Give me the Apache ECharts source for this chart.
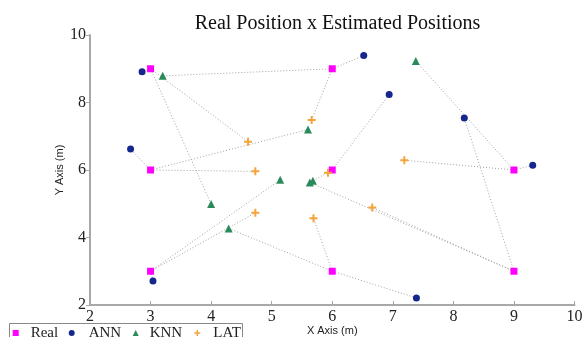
<!DOCTYPE html>
<html>
<head>
<meta charset="utf-8">
<script src="https://cdn.jsdelivr.net/npm/echarts@6/dist/echarts.min.js"></script>
<style>html,body{margin:0;padding:0;background:#fff;}#c{width:583px;height:337px;}</style>
</head>
<body>
<div id="c"></div>
<script>
// Real positions and estimates (index-aligned: estimate i belongs to real i)
const realX = [3, 6, 3, 6, 9, 3, 6, 9];
const realY = [9, 9, 6, 6, 6, 3, 3, 3];
const annX = [2.86, 6.52, 2.67, 6.94, 9.31, 3.04, 7.39, 8.18];
const annY = [8.91, 9.39, 6.62, 8.24, 6.14, 2.71, 2.21, 7.54];
const knnX = [4.00, 3.20, 5.60, 5.68, 7.38, 5.14, 4.29, 5.63];
const knnY = [4.99, 8.79, 7.20, 5.68, 9.23, 5.71, 4.27, 5.63];
const latX = [4.61, 5.66, 4.73, 5.93, 7.19, 4.73, 5.69, 6.66];
const latY = [6.84, 7.48, 5.96, 5.92, 6.29, 4.73, 4.57, 4.89];
const xTicks = [2, 3, 4, 5, 6, 7, 8, 9, 10];
const yTicks = [2, 4, 6, 8, 10];
const seriesNames = ['Real', 'ANN', 'KNN', 'LAT'];

const pts = (xs, ys) => xs.map((x, i) => [x, ys[i]]);
const real = pts(realX, realY), ann = pts(annX, annY), knn = pts(knnX, knnY), lat = pts(latX, latY);
const links = [];
[ann, knn, lat].forEach(est => est.forEach((p, i) => links.push({coords: [real[i], p]})));

const PLUS = 'path://M3,0H5V3H8V5H5V8H3V5H0V3H3Z';
const colors = {Real: '#ff00ff', ANN: '#15268c', KNN: '#2a8a5c', LAT: '#f4a53a'};
const icons = {Real: 'rect', ANN: 'circle', KNN: 'triangle', LAT: PLUS};
const legendIconCenter = [15.7, 71.7, 135.7, 197.3];
const legendTextGap = [7, 9, 6, 8];
const serif = '"Liberation Serif", "Times New Roman", serif';
const sans = '"Liberation Sans", Arial, sans-serif';

const chart = echarts.init(document.getElementById('c'));
chart.setOption({
  animation: false,
  title: {
    text: 'Real Position x Estimated Positions',
    left: 332.5, textAlign: 'center', top: 9,
    textStyle: {fontFamily: serif, fontSize: 20, fontWeight: 'normal', color: '#111'}
  },
  grid: {left: 90, right: 8.5, top: 35, bottom: 32, outerBoundsMode: 'none', containLabel: false},
  xAxis: {
    type: 'value', min: xTicks[0], max: xTicks[xTicks.length - 1], interval: 1,
    name: 'X Axis (m)', nameLocation: 'middle', nameGap: 20, nameMoveOverlap: false,
    nameTextStyle: {fontFamily: sans, fontSize: 11, color: '#222'},
    axisLine: {lineStyle: {color: '#a8a8a8', width: 2}},
    axisTick: {inside: true, length: 4, lineStyle: {color: '#a8a8a8', width: 1}},
    axisLabel: {fontFamily: serif, fontSize: 16, color: '#222', margin: 4},
    splitLine: {show: false}
  },
  yAxis: {
    type: 'value', min: yTicks[0], max: yTicks[yTicks.length - 1], interval: 2,
    name: 'Y Axis (m)', nameLocation: 'middle', nameGap: 25, nameRotate: 90, nameMoveOverlap: false,
    nameTextStyle: {fontFamily: sans, fontSize: 11, color: '#222'},
    axisLine: {show: true, lineStyle: {color: '#a8a8a8', width: 2}},
    axisTick: {show: true, inside: false, length: 4, lineStyle: {color: '#a8a8a8', width: 1}},
    axisLabel: {fontFamily: serif, fontSize: 16, color: '#222', margin: 4},
    splitLine: {show: false}
  },
  legend: seriesNames.map((n, i) => ({
    data: [{name: n, icon: icons[n]}],
    left: legendIconCenter[i] - 3, top: 325.5, padding: 0,
    itemWidth: 6, itemHeight: 6, itemGap: 0,
    textStyle: {fontFamily: serif, fontSize: 15, color: '#222', lineHeight: 15,
                padding: [0, 0, 0, legendTextGap[i]]}
  })),
  graphic: [{
    type: 'rect', shape: {x: 9.5, y: 323.5, width: 233, height: 30},
    style: {fill: 'none', stroke: '#888', lineWidth: 1}, silent: true, z: 0
  }],
  series: [
    {type: 'lines', coordinateSystem: 'cartesian2d', data: links, silent: true, z: 1,
     lineStyle: {color: '#a0a0a0', width: 1, type: [1, 2], opacity: 1}},
    {name: 'Real', type: 'scatter', data: real, symbol: icons.Real, symbolSize: 7, z: 3,
     itemStyle: {color: colors.Real, opacity: 1}},
    {name: 'ANN', type: 'scatter', data: ann, symbol: icons.ANN, symbolSize: 7, z: 3,
     itemStyle: {color: colors.ANN, opacity: 1}},
    {name: 'KNN', type: 'scatter', data: knn, symbol: icons.KNN, symbolSize: 8, z: 3,
     itemStyle: {color: colors.KNN, opacity: 1}},
    {name: 'LAT', type: 'scatter', data: lat, symbol: icons.LAT, symbolSize: 8, z: 3,
     itemStyle: {color: colors.LAT, opacity: 1}}
  ]
});
</script>
</body>
</html>
